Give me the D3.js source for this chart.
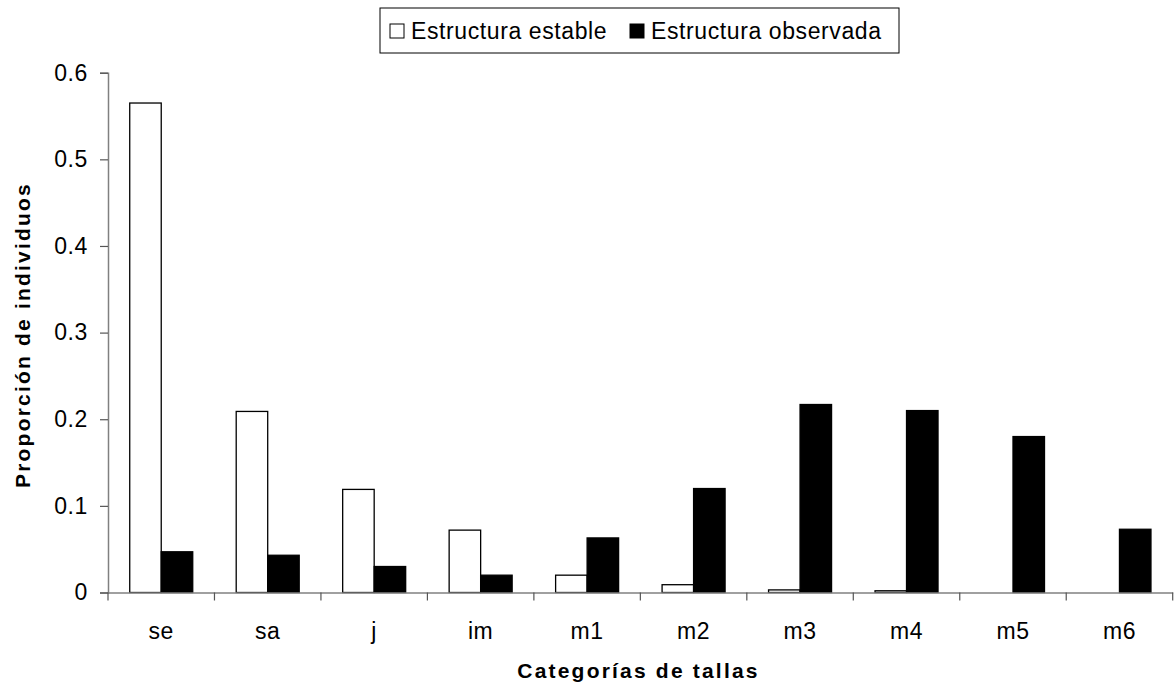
<!DOCTYPE html>
<html><head><meta charset="utf-8">
<script src="https://cdn.jsdelivr.net/npm/d3@7/dist/d3.min.js"></script>
<style>
body{margin:0;background:#fff;}
svg{display:block;font-family:"Liberation Sans",Arial,sans-serif;}
</style></head>
<body><svg id="chart" width="1176" height="685"></svg>
<script>
const categories = ["se","sa","j","im","m1","m2","m3","m4","m5","m6"];
const seriesNames = ["Estructura estable","Estructura observada"];
const estable = [0.565,0.209,0.119,0.072,0.020,0.009,0.003,0.002,0,0];
const observada = [0.047,0.043,0.030,0.020,0.063,0.120,0.217,0.210,0.180,0.073];
const yTicks = [0,0.1,0.2,0.3,0.4,0.5,0.6];

const W=1176,H=685;
const m={left:108,right:3.3,top:72.7,bottom:92.5};
const svg=d3.select("#chart");
const x=d3.scaleBand().domain(categories).range([m.left,W-m.right]).padding(0);
const xs=d3.scaleBand().domain(seriesNames).range([0,x.bandwidth()]).paddingInner(0).paddingOuter(0.69);
const y=d3.scaleLinear().domain([0,0.6]).range([H-m.bottom,m.top]);
const fills=["#ffffff","#000000"];
const rows=categories.map((c,i)=>({c,vals:[estable[i],observada[i]]}));

// bars
const g=svg.append("g");
rows.forEach(r=>{
  r.vals.forEach((v,k)=>{
    if(v<=0) return;
    g.append("rect")
      .attr("x",x(r.c)+xs(seriesNames[k]))
      .attr("y",y(v))
      .attr("width",xs.bandwidth())
      .attr("height",y(0)-y(v))
      .attr("fill",fills[k]).attr("stroke","#000").attr("stroke-width",1.3);
  });
});

// y axis
const ya=svg.append("g").attr("transform",`translate(${m.left},0)`)
  .call(d3.axisLeft(y).tickValues(yTicks).tickSize(8).tickPadding(12).tickFormat(d=>d===0?"0":d.toFixed(1)));
ya.select(".domain").attr("stroke","#808080").attr("stroke-width",1.5);
ya.selectAll(".tick line").attr("stroke","#555").attr("stroke-width",1.2);
ya.selectAll("text").attr("font-size",23).attr("fill","#000").attr("font-family","Liberation Sans, Arial, sans-serif").style("letter-spacing","0.6px");

// x axis
const xa=svg.append("g").attr("transform",`translate(0,${y(0)})`)
  .call(d3.axisBottom(x).tickSize(0).tickPadding(30));
xa.select(".domain").attr("stroke","#808080").attr("stroke-width",1.5);
xa.selectAll("text").attr("font-size",23).attr("fill","#000").attr("font-family","Liberation Sans, Arial, sans-serif").style("letter-spacing","0.6px");
const bounds=categories.map(c=>x(c)).concat([x(categories[categories.length-1])+x.bandwidth()]);
xa.selectAll(".bt").data(bounds).enter().append("line")
  .attr("x1",d=>d).attr("x2",d=>d).attr("y1",0).attr("y2",8)
  .attr("stroke","#555").attr("stroke-width",1.2);

// axis titles
svg.append("text").attr("x",(516+761)/2).attr("y",678).attr("text-anchor","middle")
  .attr("font-size",21).attr("font-weight","bold").style("letter-spacing","2.2px")
  .text("Categorías de tallas");
svg.append("text").attr("transform","translate(30,335) rotate(-90)").attr("text-anchor","middle")
  .attr("font-size",21).attr("font-weight","bold").style("letter-spacing","2.2px")
  .text("Proporción de individuos");

// legend
const lg=svg.append("g");
lg.append("rect").attr("x",380).attr("y",8).attr("width",519).attr("height",45)
  .attr("fill","#fff").attr("stroke","#000").attr("stroke-width",1);
const legX=[390,630];
seriesNames.forEach((s,k)=>{
  lg.append("rect").attr("x",legX[k]).attr("y",24).attr("width",14).attr("height",14)
    .attr("fill",fills[k]).attr("stroke","#000").attr("stroke-width",1);
  lg.append("text").attr("x",legX[k]+21).attr("y",39).attr("font-size",23)
    .style("letter-spacing","0.6px").text(s);
});
</script></body></html>
